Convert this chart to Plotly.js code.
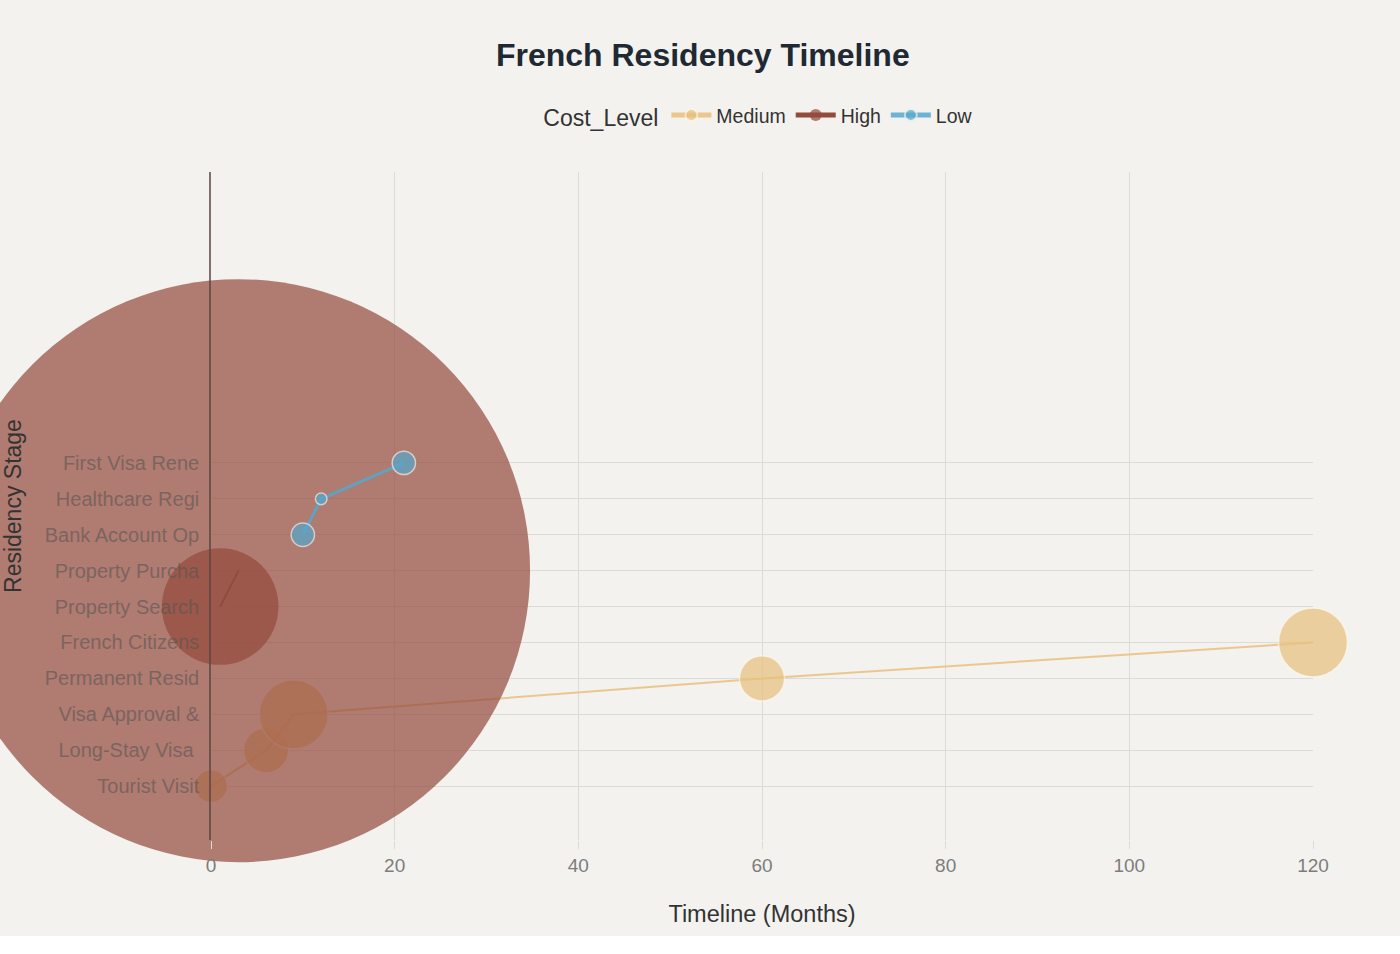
<!DOCTYPE html>
<html>
<head>
<meta charset="utf-8">
<script src="https://cdn.plot.ly/plotly-3.0.1.min.js"></script>
<style>
  html, body { margin: 0; padding: 0; background: #ffffff; }
  #chart { width: 1400px; height: 936px; }
</style>
</head>
<body>
<div id="chart"></div>
<script>
// ---- Data ----
const mediumStages = ["Tourist Visit", "Long-Stay Visa\u00a0", "Visa Approval &", "Permanent Resid", "French Citizens"];
const mediumMonths = [0, 6, 9, 60, 120];
const mediumCost   = [800, 1500, 3500, 1500, 3500];

const highStages = ["Property Search", "Property Purcha"];
const highMonths = [1, 3];
const highCost   = [10000, 250000];

const lowStages = ["Bank Account Op", "Healthcare Regi", "First Visa Rene"];
const lowMonths = [10, 12, 21];
const lowCost   = [400, 100, 400];

const groupNames = ["Medium", "High", "Low"];
const xTicks = [0, 20, 40, 60, 80, 100, 120];

// ---- Styling ----
const colors = { Medium: "#E9C07C", High: "#944A3C", Low: "#53A9CF" };
const lineColors = { Medium: "rgba(233,192,124,0.85)", High: "#944A3C", Low: "rgba(83,169,207,0.85)" };
const maxCost = Math.max(...mediumCost, ...highCost, ...lowCost);
const maxDiameter = 583;
const sizeref = 2 * maxCost / (maxDiameter * maxDiameter);
const FONT = "Liberation Sans, Arial, Helvetica, sans-serif";

function makeTrace(name, xs, ys, sizes, lineWidth, outline) {
  return {
    type: "scatter",
    mode: "lines+markers",
    name: name,
    legendgroup: name,
    x: xs,
    y: ys,
    cliponaxis: false,
    line: { color: lineColors[name], width: lineWidth },
    marker: {
      color: colors[name],
      size: sizes,
      sizemode: "area",
      sizeref: sizeref,
      opacity: 0.7,
      line: { color: outline, width: 1.5 }
    }
  };
}

const data = [
  makeTrace(groupNames[0], mediumMonths, mediumStages, mediumCost, 2, "rgba(255,250,240,0.8)"),
  makeTrace(groupNames[1], highMonths, highStages, highCost, 2, "rgba(255,255,255,0)"),
  makeTrace(groupNames[2], lowMonths, lowStages, lowCost, 3, "#EDEDE8")
];

const layout = {
  width: 1400,
  height: 936,
  paper_bgcolor: "#F3F2EE",
  plot_bgcolor: "#F3F2EE",
  margin: { l: 211, r: 87, t: 172, b: 96 },
  font: { family: FONT, color: "#333" },
  title: {
    text: "<b>French Residency Timeline</b>",
    font: { family: FONT, size: 32, color: "#1E2933" },
    x: 0.502, xref: "container", xanchor: "center",
    y: 0.941, yref: "container", yanchor: "middle"
  },
  showlegend: true,
  legend: {
    orientation: "h",
    x: 0.498, xanchor: "center",
    y: 1.084, yanchor: "middle",
    font: { family: FONT, size: 19.5, color: "#333" },
    title: { text: "Cost_Level", font: { family: FONT, size: 23, color: "#333" } },
    bgcolor: "rgba(0,0,0,0)",
    itemsizing: "constant",
    itemwidth: 40
  },
  xaxis: {
    range: [0, 120],
    tickvals: xTicks,
    showgrid: true,
    gridcolor: "#DCDCD7",
    gridwidth: 1,
    zeroline: false,
    showline: false,
    ticks: "outside",
    ticklen: 8,
    tickcolor: "#DCDCD7",
    tickfont: { family: FONT, size: 19, color: "#7d7d7d" },
    title: { text: "Timeline (Months)", font: { family: FONT, size: 23.5, color: "#333" }, standoff: 30 }
  },
  yaxis: {
    type: "category",
    range: [-1.5, 17.1],
    showgrid: true,
    gridcolor: "#DCDCD7",
    gridwidth: 1,
    zeroline: false,
    showline: true,
    linecolor: "rgba(90,70,65,0.75)",
    linewidth: 1.5,
    ticks: "",
    ticklabelstandoff: 6,
    tickfont: { family: FONT, size: 20, color: "rgba(85,85,85,0.6)" }
  },
  annotations: [{
    text: "Residency Stage",
    textangle: -90,
    xref: "paper", yref: "paper",
    x: -0.1797, y: 0.5,
    xanchor: "center", yanchor: "middle",
    showarrow: false,
    font: { family: FONT, size: 23, color: "#333" }
  }]
};

Plotly.newPlot("chart", data, layout, { displayModeBar: false, responsive: false });
</script>
</body>
</html>
